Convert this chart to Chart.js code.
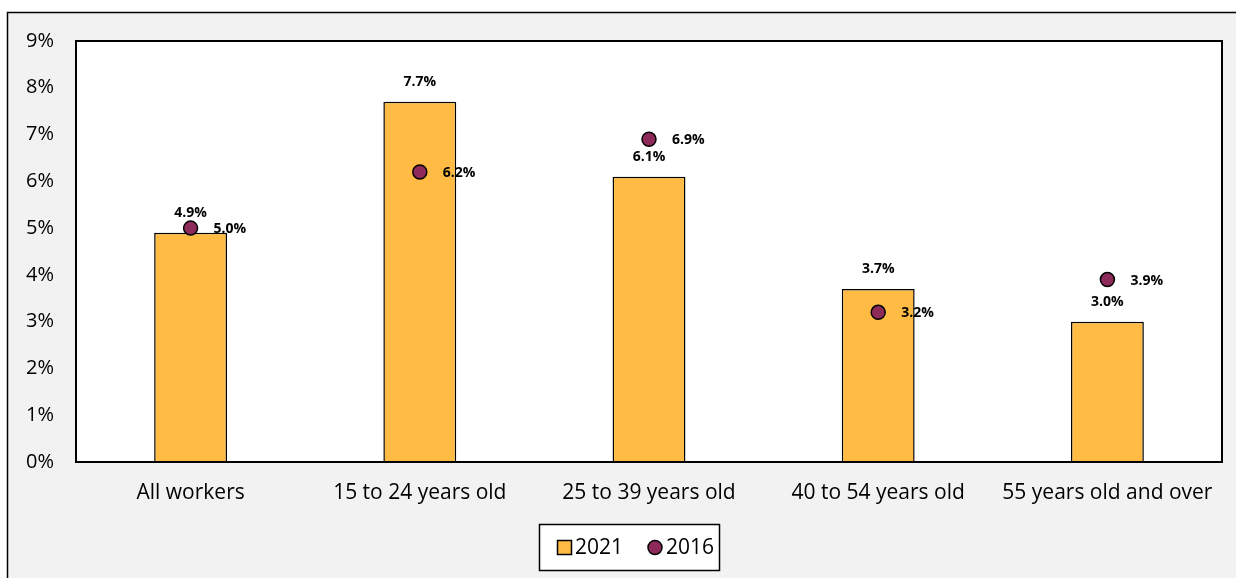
<!DOCTYPE html>
<html>
<head>
<meta charset="utf-8">
<script src="https://cdn.jsdelivr.net/npm/chart.js@4"></script>
<style>
  html, body { margin: 0; padding: 0; background: #ffffff; }
  #wrap { width: 1236px; height: 578px; }
</style>
</head>
<body>
<div id="wrap"><canvas id="chart" width="1236" height="578"></canvas></div>
<script>
// 데이터
const categories = ['All workers', '15 to 24 years old', '25 to 39 years old', '40 to 54 years old', '55 years old and over'];
const values2021 = [4.9, 7.7, 6.1, 3.7, 3.0];
const values2016 = [5.0, 6.2, 6.9, 3.2, 3.9];
const seriesNames = ['2021', '2016'];

const FONT = '"Open Sans", "Noto Sans", sans-serif';
const BAR_COLOR = '#ffbb44';
const DOT_COLOR = '#8e2a5a';

// 바깥 테두리, 배경, 범례
const frame = {
    id: 'frame',
    beforeDraw(chart) {
        const c = chart.ctx;
        c.save();
        c.fillStyle = '#ffffff';
        c.fillRect(0, 0, chart.width, chart.height);
        c.fillStyle = '#f2f2f2';
        c.fillRect(7, 12, chart.width - 7, chart.height - 12);
        c.strokeStyle = '#000';
        c.lineWidth = 1.5;
        c.beginPath();
        c.moveTo(7.5, chart.height);
        c.lineTo(7.5, 12.5);
        c.lineTo(chart.width, 12.5);
        c.stroke();
        // 플롯 영역
        const a = chart.chartArea;
        c.fillStyle = '#ffffff';
        c.fillRect(a.left, a.top, a.right - a.left, a.bottom - a.top);
        c.restore();
    },
    afterDraw(chart) {
        const c = chart.ctx;
        const a = chart.chartArea;
        c.save();
        c.strokeStyle = '#000';
        c.lineWidth = 2;
        c.strokeRect(a.left, a.top, a.right - a.left, a.bottom - a.top);

        // 범례 (직접 그림)
        c.fillStyle = '#ffffff';
        c.fillRect(539.5, 524.5, 180, 46);
        c.lineWidth = 1.5;
        c.strokeRect(539.5, 524.5, 180, 46);
        c.fillStyle = BAR_COLOR;
        c.fillRect(557.5, 540.5, 14, 14);
        c.strokeRect(557.5, 540.5, 14, 14);
        c.beginPath();
        c.arc(655, 547.5, 7, 0, Math.PI * 2);
        c.fillStyle = DOT_COLOR;
        c.fill();
        c.stroke();
        c.fillStyle = '#000';
        c.font = '21px ' + FONT;
        c.textAlign = 'left';
        c.textBaseline = 'middle';
        c.fillText(seriesNames[0], 575, 548);
        c.fillText(seriesNames[1], 666, 548);
        c.restore();
    }
};

// 라벨 그리기
const valueLabels = {
    id: 'valueLabels',
    afterDatasetsDraw(chart) {
        const c = chart.ctx;
        c.save();
        c.font = 'bold 14px ' + FONT;
        c.fillStyle = '#000';
        chart.getDatasetMeta(0).data.forEach(function (bar, i) {
            c.textAlign = 'center';
            c.textBaseline = 'middle';
            c.fillText(values2021[i].toFixed(1) + '%', bar.x, bar.y - 20);
        });
        chart.getDatasetMeta(1).data.forEach(function (pt, i) {
            c.textAlign = 'left';
            c.textBaseline = 'middle';
            c.fillText(values2016[i].toFixed(1) + '%', pt.x + 23, pt.y + 1);
        });
        c.restore();
    }
};

new Chart(document.getElementById('chart'), {
    data: {
        labels: categories,
        datasets: [{
            type: 'bar',
            label: seriesNames[0],
            data: values2021,
            backgroundColor: BAR_COLOR,
            borderColor: '#000',
            borderWidth: 1.5,
            barPercentage: 0.318,
            categoryPercentage: 1.0,
            order: 2
        }, {
            type: 'line',
            label: seriesNames[1],
            data: values2016,
            showLine: false,
            pointStyle: 'circle',
            pointRadius: 7,
            pointBackgroundColor: DOT_COLOR,
            pointBorderColor: '#000',
            pointBorderWidth: 1.5,
            order: 1
        }]
    },
    options: {
        responsive: false,
        animation: false,
        layout: { padding: { left: 0, top: 41, right: 14, bottom: 52 } },
        scales: {
            x: {
                grid: { display: false, drawTicks: false },
                border: { display: false },
                ticks: { color: '#000', font: { family: FONT, size: 21 }, padding: 18, maxRotation: 0 },
                afterFit(scale) { scale.height = 64; }
            },
            y: {
                min: 0,
                max: 9,
                grid: { display: false, drawTicks: false },
                border: { display: false },
                ticks: {
                    stepSize: 1,
                    color: '#000',
                    font: { family: FONT, size: 20 },
                    padding: 22,
                    callback: function (v) { return v + '%'; }
                },
                afterFit(scale) { scale.width = 76; }
            }
        },
        plugins: {
            legend: { display: false },
            tooltip: { enabled: false }
        }
    },
    plugins: [frame, valueLabels]
});
</script>
</body>
</html>
